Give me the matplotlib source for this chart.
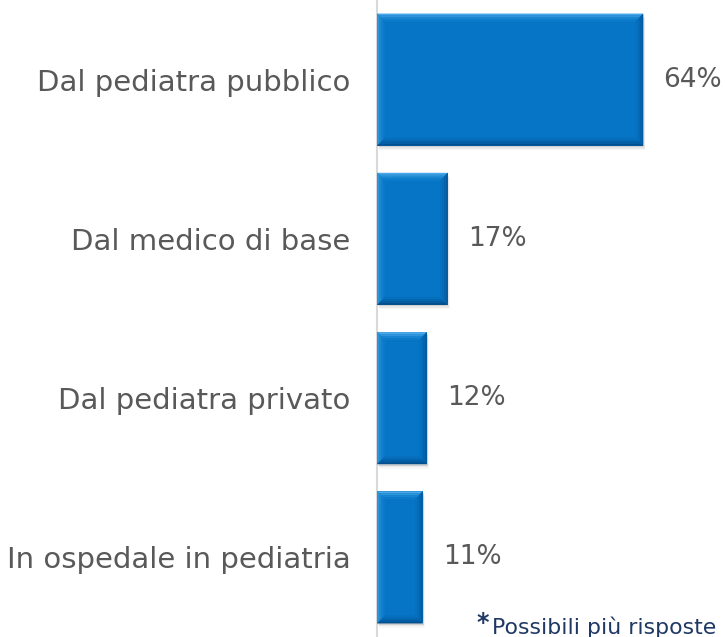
import matplotlib
matplotlib.use('Agg')
import matplotlib.pyplot as plt
from matplotlib.patches import Polygon, Rectangle

categories = ['Dal pediatra pubblico', 'Dal medico di base', 'Dal pediatra privato', 'In ospedale in pediatria']
values = [64, 17, 12, 11]
value_labels = ['64%', '17%', '12%', '11%']
footnote = 'Possibili più risposte'

plt.rcParams['font.family'] = ['DejaVu Sans']

W, H = 725, 637
fig = plt.figure(figsize=(W / 100, H / 100), dpi=100)
ax0 = 377
ax = fig.add_axes([ax0 / W, 0, 1 - ax0 / W, 1])
px_per_unit = 4.16
ax.set_xlim(0, (W - ax0) / px_per_unit)
ax.set_ylim(3.5, -0.5)
ypx = H / 4.0  # pixels per category

base = '#0675C6'
bar_h = 0.83
bars = ax.barh(range(len(values)), values, height=bar_h, color=base, zorder=3)

# bevel edges, drawn as bands of several steps to look like a soft gradient
bev = 8
steps = 4
top_c = ['#4AA6E6', '#2F95DB', '#1985D0', '#0C7BC9']
left_c = ['#2E93DA', '#1E89D3', '#127FCC', '#0A79C8']
right_c = ['#045A9E', '#0563AC', '#066CB8', '#0671C0']
bot_c = ['#034F8E', '#045BA0', '#0566B0', '#066FBD']
for b in bars:
    x0, y0 = b.get_x(), b.get_y()
    x1, y1 = x0 + b.get_width(), y0 + b.get_height()
    # soft shadow
    for k, a in enumerate([0.10, 0.06, 0.03]):
        d = (k + 1) * 1.5
        ax.add_patch(Rectangle((x0 + d * 0.5 / px_per_unit, y0 + d / ypx), x1 - x0, y1 - y0,
                               facecolor='#000000', alpha=a, lw=0, zorder=2))
    for s in range(steps):
        o = bev * s / steps
        i_ = bev * (s + 1) / steps
        ox, oy = o / px_per_unit, o / ypx
        ix, iy = i_ / px_per_unit, i_ / ypx
        ax.add_patch(Polygon([(x0 + ox, y0 + oy), (x1 - ox, y0 + oy), (x1 - ix, y0 + iy), (x0 + ix, y0 + iy)],
                             closed=True, facecolor=top_c[s], lw=0, zorder=4))
        ax.add_patch(Polygon([(x0 + ox, y0 + oy), (x0 + ix, y0 + iy), (x0 + ix, y1 - iy), (x0 + ox, y1 - oy)],
                             closed=True, facecolor=left_c[s], lw=0, zorder=4))
        ax.add_patch(Polygon([(x1 - ox, y0 + oy), (x1 - ox, y1 - oy), (x1 - ix, y1 - iy), (x1 - ix, y0 + iy)],
                             closed=True, facecolor=right_c[s], lw=0, zorder=4))
        ax.add_patch(Polygon([(x0 + ox, y1 - oy), (x1 - ox, y1 - oy), (x1 - ix, y1 - iy), (x0 + ix, y1 - iy)],
                             closed=True, facecolor=bot_c[s], lw=0, zorder=4))

for i, v in enumerate(values):
    ax.text(v + 20 / px_per_unit, i, value_labels[i], va='center', ha='left',
            fontsize=19, color='#595959')

ax.set_yticks(range(len(categories)))
ax.set_yticklabels(categories, fontsize=21, color='#595959')
ax.tick_params(axis='y', length=0, pad=19)
ax.set_xticks([])
for s in ['top', 'right', 'bottom']:
    ax.spines[s].set_visible(False)
ax.spines['left'].set_color('#D9D9D9')
ax.spines['left'].set_linewidth(1.5)

fig.text(476 / W, 1 - 623 / H, '*', fontsize=17, fontweight='bold', color='#1F3864',
         ha='left', va='center')
fig.text(492 / W, 1 - 627 / H, footnote, fontsize=15.8, color='#1F3864',
         ha='left', va='center')

fig.savefig('out.png', dpi=100)
